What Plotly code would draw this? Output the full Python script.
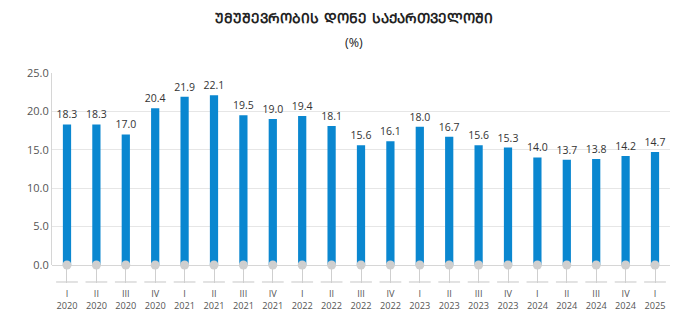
import plotly.graph_objects as go

quarters = ["I", "II", "III", "IV", "I", "II", "III", "IV", "I", "II", "III", "IV",
            "I", "II", "III", "IV", "I", "II", "III", "IV", "I"]
years = ["2020", "2020", "2020", "2020", "2021", "2021", "2021", "2021",
         "2022", "2022", "2022", "2022", "2023", "2023", "2023", "2023",
         "2024", "2024", "2024", "2024", "2025"]
unemployment = [18.3, 18.3, 17.0, 20.4, 21.9, 22.1, 19.5, 19.0, 19.4, 18.1, 15.6,
                16.1, 18.0, 16.7, 15.6, 15.3, 14.0, 13.7, 13.8, 14.2, 14.7]
y_ticks = [0, 5, 10, 15, 20, 25]

title_text = "უმუშევრობის დონე საქართველოში".upper()
unit_text = "(%)"

idx = list(range(len(unemployment)))
tick_labels = [f"{q}<br>{y}" for q, y in zip(quarters, years)]

BAR = "#0a87d0"
GREY = "#cfcfcf"
FONT = "Open Sans, Noto Sans, DejaVu Sans, sans-serif"

fig = go.Figure()
fig.add_trace(go.Bar(
    x=idx, y=unemployment, width=0.28, marker=dict(color=BAR, line=dict(width=0)),
    text=[f"{v:.1f}" for v in unemployment], textposition="outside",
    constraintext="none", textangle=0,
    textfont=dict(size=10.5, color="#333333", family=FONT), cliponaxis=False,
    hoverinfo="skip",
))
fig.add_trace(go.Scatter(
    x=idx, y=[0] * len(idx), mode="markers",
    marker=dict(size=9, color=GREY, line=dict(width=0)), cliponaxis=False,
    hoverinfo="skip",
))

# short base segments under each category tick
for i in idx:
    fig.add_shape(type="line", xref="x", yref="paper", x0=i - 0.37, x1=i + 0.37,
                  y0=-0.0885, y1=-0.0885, line=dict(color=GREY, width=1.2))

fig.add_annotation(text="<b>" + title_text + "</b>", xref="paper", yref="paper",
                   x=0.488, y=1.286, showarrow=False, yanchor="middle",
                   font=dict(size=13.7, color="#222222", family="DejaVu Sans, sans-serif"))
fig.add_annotation(text=unit_text, xref="paper", yref="paper", x=0.488, y=1.161,
                   showarrow=False, yanchor="middle",
                   font=dict(size=12.5, color="#222222", family=FONT))

fig.update_layout(
    width=700, height=324, margin=dict(l=52, r=30, t=73, b=59, autoexpand=False),
    paper_bgcolor="white", plot_bgcolor="white", showlegend=False,
    font=dict(family=FONT, color="#555555"),
    uniformtext=dict(mode=False),
    xaxis=dict(range=[-0.51, 20.51], tickvals=idx, ticktext=tick_labels,
               ticks="outside", ticklen=17, tickcolor=GREY, tickwidth=1.2,
               ticklabelstandoff=3, automargin=False,
               showgrid=False, zeroline=False, showline=False,
               tickfont=dict(size=9.2, color="#555555")),
    yaxis=dict(range=[0, 25], tickvals=y_ticks, ticktext=[f"{v:.1f}" for v in y_ticks],
               automargin=False,
               showgrid=True, gridcolor="#e6e6e6", gridwidth=1, zeroline=True,
               zerolinecolor="#d6d6d6", zerolinewidth=1.2,
               showline=True, linecolor="#d6d6d6", linewidth=1,
               ticks="", tickfont=dict(size=11, color="#555555")),
)

fig.write_html("out.html")
